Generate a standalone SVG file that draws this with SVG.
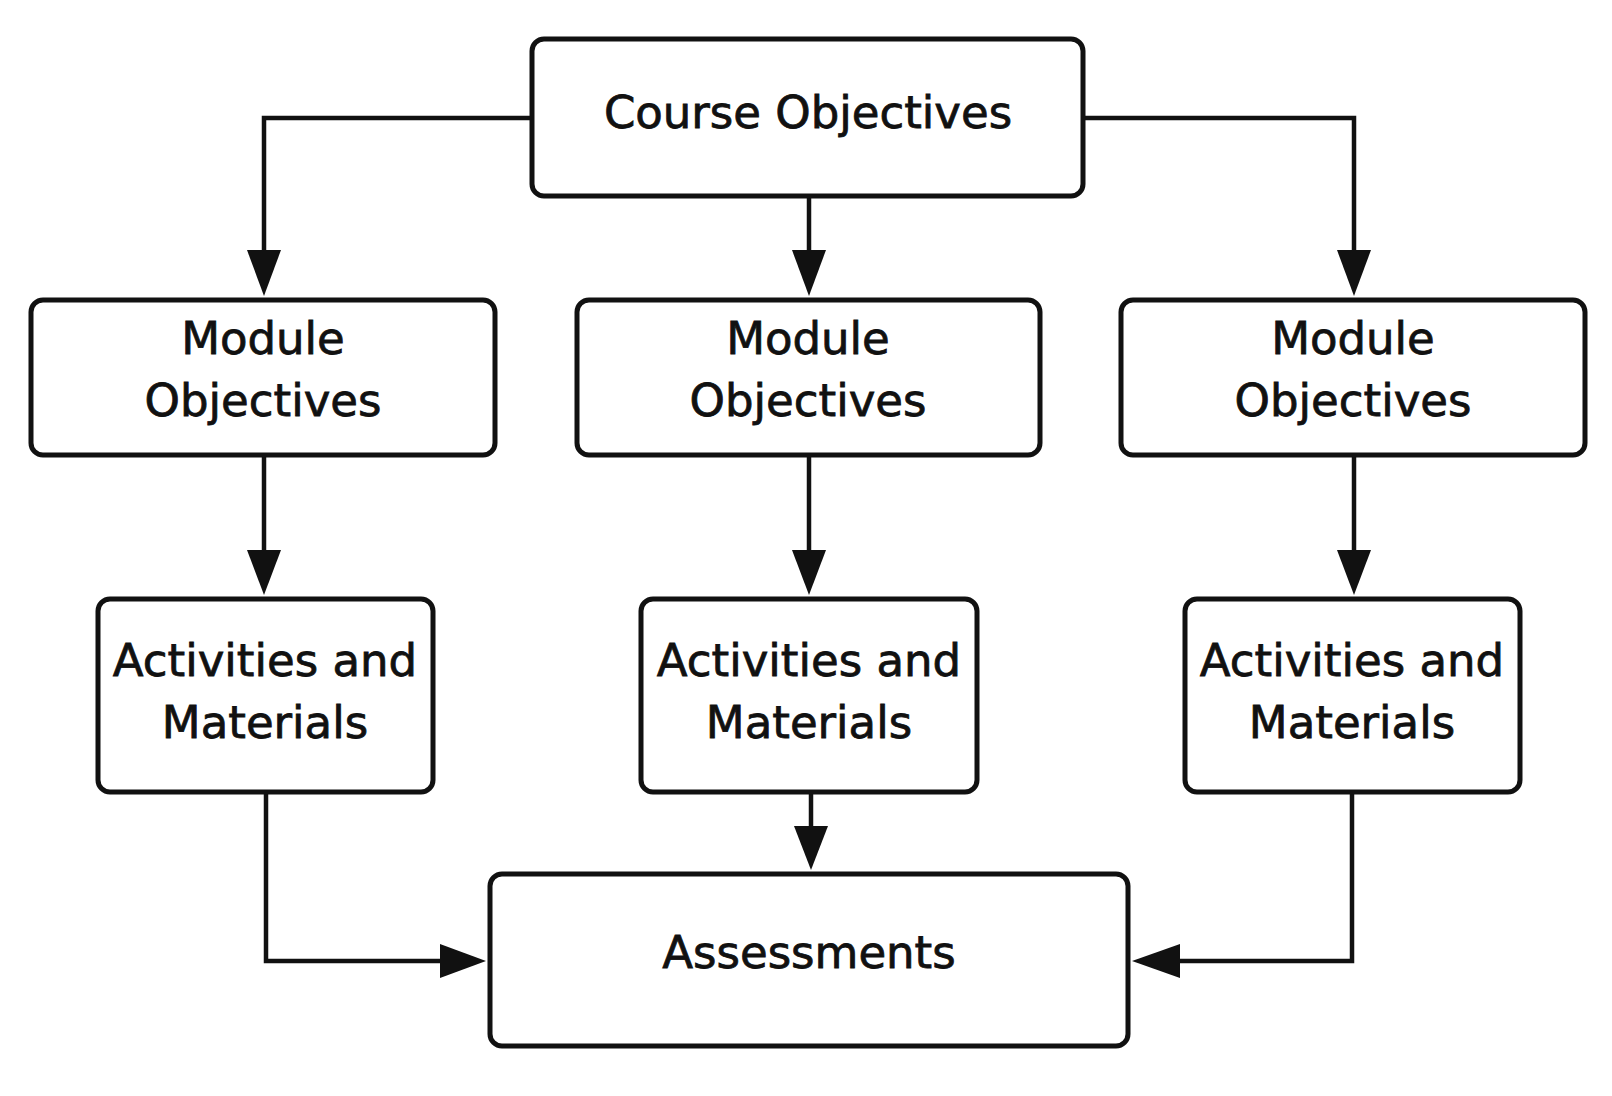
<svg xmlns="http://www.w3.org/2000/svg" width="1612" height="1096" viewBox="0 0 1612 1096">
<style>
.b{fill:#fff;stroke:#111;stroke-width:5}
.t{font-family:"DejaVu Sans","Liberation Sans",sans-serif;font-size:45px;fill:#111;stroke:#111;stroke-width:0.8;text-anchor:middle}
.c{fill:none;stroke:#111;stroke-width:4.5}
</style>
<rect width="1612" height="1096" fill="#fff"/>
<g id="connectors">
<path class="c" d="M532,118H264V252"/><path d="M247,250L264,296L281,250z" fill="#111"/>
<path class="c" d="M809,196V252"/><path d="M792,250L809,296L826,250z" fill="#111"/>
<path class="c" d="M1083,118H1354V252"/><path d="M1337,250L1354,296L1371,250z" fill="#111"/>
<path class="c" d="M264,455V552"/><path d="M247,550L264,595L281,550z" fill="#111"/>
<path class="c" d="M809,455V552"/><path d="M792,550L809,595L826,550z" fill="#111"/>
<path class="c" d="M1354,455V552"/><path d="M1337,550L1354,595L1371,550z" fill="#111"/>
<path class="c" d="M811,792V828"/><path d="M794,826L811,870L828,826z" fill="#111"/>
<path class="c" d="M266,792V961H444"/><path d="M440,944L486,961L440,978z" fill="#111"/>
<path class="c" d="M1352,792V961H1176"/><path d="M1180,944L1132,961L1180,978z" fill="#111"/>
</g>
<g id="course"><rect class="b" x="532" y="39" width="551" height="157" rx="12"/><text class="t" x="808" y="128">Course Objectives</text></g>
<g id="mod1"><rect class="b" x="31" y="300" width="464" height="155" rx="12"/><text class="t" x="263" y="354">Module</text><text class="t" x="263" y="416">Objectives</text></g>
<g id="mod2"><rect class="b" x="577" y="300" width="463" height="155" rx="12"/><text class="t" x="808" y="354">Module</text><text class="t" x="808" y="416">Objectives</text></g>
<g id="mod3"><rect class="b" x="1121" y="300" width="464" height="155" rx="12"/><text class="t" x="1353" y="354">Module</text><text class="t" x="1353" y="416">Objectives</text></g>
<g id="act1"><rect class="b" x="98" y="599" width="335" height="193" rx="12"/><text class="t" x="265" y="676">Activities and</text><text class="t" x="265" y="738">Materials</text></g>
<g id="act2"><rect class="b" x="641" y="599" width="336" height="193" rx="12"/><text class="t" x="809" y="676">Activities and</text><text class="t" x="809" y="738">Materials</text></g>
<g id="act3"><rect class="b" x="1185" y="599" width="335" height="193" rx="12"/><text class="t" x="1352" y="676">Activities and</text><text class="t" x="1352" y="738">Materials</text></g>
<g id="assess"><rect class="b" x="490" y="874" width="638" height="172" rx="12"/><text class="t" x="809" y="968">Assessments</text></g>
</svg>
